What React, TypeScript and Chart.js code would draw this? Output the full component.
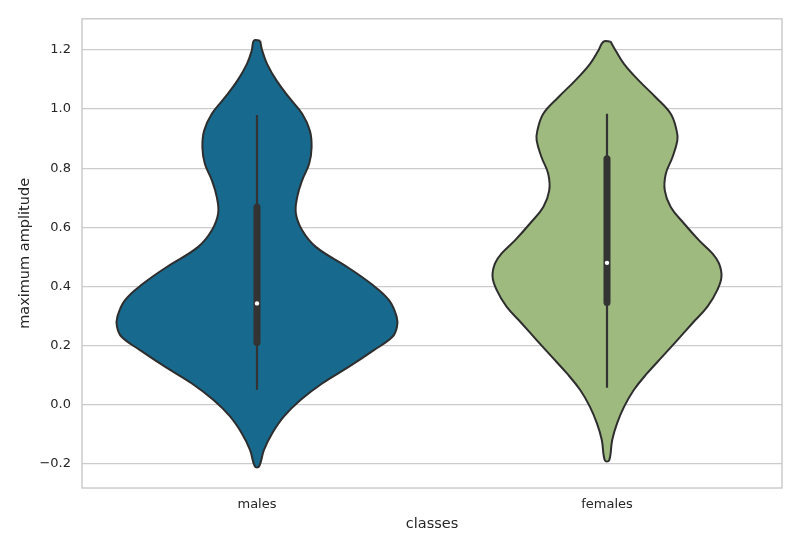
import React, { useEffect, useRef } from "react";
import { Chart, registerables } from "chart.js";

Chart.register(...registerables);

// Categories
const categories = ["males", "females"];

// Y tick labels
const yTicks = [-0.2, 0.0, 0.2, 0.4, 0.6, 0.8, 1.0, 1.2];

// Violin density profiles (value, half-width in category units), top to bottom
const malesY = [1.231, 1.197, 1.152, 1.096, 1.040, 0.984, 0.927, 0.871, 0.815, 0.759, 0.703, 0.647, 0.590, 0.534, 0.466, 0.410, 0.354, 0.298, 0.264, 0.230, 0.185, 0.129, 0.073, 0.017, -0.039, -0.095, -0.152, -0.208];
const malesW = [0.009, 0.015, 0.029, 0.056, 0.091, 0.129, 0.151, 0.156, 0.149, 0.129, 0.115, 0.111, 0.129, 0.168, 0.258, 0.325, 0.377, 0.399, 0.400, 0.387, 0.334, 0.263, 0.187, 0.125, 0.077, 0.044, 0.020, 0.006];

const femalesY = [1.228, 1.197, 1.152, 1.096, 1.040, 0.984, 0.927, 0.894, 0.837, 0.781, 0.725, 0.669, 0.613, 0.556, 0.512, 0.478, 0.433, 0.388, 0.332, 0.276, 0.219, 0.163, 0.107, 0.051, -0.006, -0.062, -0.118, -0.188];
const femalesW = [0.010, 0.025, 0.049, 0.091, 0.139, 0.182, 0.199, 0.201, 0.187, 0.168, 0.165, 0.182, 0.220, 0.263, 0.301, 0.320, 0.327, 0.315, 0.287, 0.244, 0.201, 0.158, 0.115, 0.077, 0.049, 0.029, 0.015, 0.006];

// Box summaries: [whiskerLow, q1, median, q3, whiskerHigh]
const malesBox = [0.051, 0.211, 0.343, 0.669, 0.980];
const femalesBox = [0.058, 0.346, 0.480, 0.832, 0.984];

const fillColors = ["#176a8e", "#9fba7f"];
const edgeColor = "#2e2e2e";

function violinPoints(center: number, ys: number[], ws: number[]) {
  const right = ys.map((y, i) => ({ x: center + ws[i], y }));
  const left = ys.map((y, i) => ({ x: center - ws[i], y })).reverse();
  return [...right, ...left, right[0]];
}

export default function App() {
  const canvasRef = useRef<HTMLCanvasElement | null>(null);

  useEffect(() => {
    document.body.style.margin = "0";
    const canvas = canvasRef.current;
    if (!canvas) return;

    const violins = [
      { ys: malesY, ws: malesW, box: malesBox },
      { ys: femalesY, ws: femalesW, box: femalesBox },
    ];

    const datasets: any[] = [];
    violins.forEach((v, i) => {
      datasets.push({
        type: "line",
        data: violinPoints(i, v.ys, v.ws),
        backgroundColor: fillColors[i],
        borderColor: edgeColor,
        borderWidth: 2,
        fill: "shape",
        tension: 0.4,
        pointRadius: 0,
        order: 4,
      });
      datasets.push({
        type: "line",
        data: [
          { x: i, y: v.box[0] },
          { x: i, y: v.box[4] },
        ],
        borderColor: "#333333",
        borderWidth: 2.2,
        pointRadius: 0,
        fill: false,
        order: 3,
      });
      datasets.push({
        type: "line",
        data: [
          { x: i, y: v.box[1] },
          { x: i, y: v.box[3] },
        ],
        borderColor: "#333333",
        borderWidth: 7,
        borderCapStyle: "round",
        pointRadius: 0,
        fill: false,
        order: 2,
      });
      datasets.push({
        type: "scatter",
        data: [{ x: i, y: v.box[2] }],
        backgroundColor: "#ffffff",
        borderColor: "#ffffff",
        borderWidth: 0,
        pointRadius: 2.2,
        order: 1,
      });
    });

    const framePlugin = {
      id: "frame",
      afterDraw(chart: any) {
        const { ctx, chartArea } = chart;
        ctx.save();
        ctx.strokeStyle = "#cccccc";
        ctx.lineWidth = 1.5;
        ctx.strokeRect(chartArea.left, chartArea.top, chartArea.right - chartArea.left, chartArea.bottom - chartArea.top);
        ctx.restore();
      },
    };

    const chart = new Chart(canvas, {
      type: "scatter",
      data: { datasets },
      plugins: [framePlugin],
      options: {
        animation: false,
        responsive: false,
        maintainAspectRatio: false,
        layout: { padding: { left: 0, right: 18, top: 18, bottom: 0 } },
        plugins: {
          legend: { display: false },
          tooltip: { enabled: false },
        },
        scales: {
          x: {
            type: "linear",
            min: -0.5,
            max: 1.5,
            afterBuildTicks: (scale: any) => {
              scale.ticks = categories.map((_, i) => ({ value: i }));
            },
            afterFit: (scale: any) => {
              scale.height = 62;
            },
            ticks: {
              callback: (v: any) => categories[Math.round(Number(v))] ?? "",
              color: "#262626",
              font: { family: "DejaVu Sans", size: 13 },
              padding: 9,
              maxRotation: 0,
            },
            grid: { display: false, drawTicks: false },
            border: { display: false },
            title: {
              display: true,
              text: "classes",
              color: "#262626",
              font: { family: "DejaVu Sans", size: 14.5 },
              padding: { top: 3, bottom: 17 },
            },
          },
          y: {
            type: "linear",
            min: -0.281,
            max: 1.305,
            afterBuildTicks: (scale: any) => {
              scale.ticks = yTicks.map((v) => ({ value: v }));
            },
            afterFit: (scale: any) => {
              scale.width = 82;
            },
            ticks: {
              callback: (v: any) => {
                const s = Number(v).toFixed(1);
                return s.startsWith("-") ? "\u2212" + s.slice(1) : s;
              },
              color: "#262626",
              font: { family: "DejaVu Sans", size: 13 },
              padding: 11,
            },
            grid: { color: "#cccccc", lineWidth: 1.2, drawTicks: false },
            border: { display: false },
            title: {
              display: true,
              text: "maximum amplitude",
              color: "#262626",
              font: { family: "DejaVu Sans", size: 14.5 },
              padding: { top: 17, bottom: 6 },
            },
          },
        },
      } as any,
    });

    return () => chart.destroy();
  }, []);

  return (
    <div style={{ position: "fixed", left: 0, top: 0, width: 800, height: 550, background: "#ffffff" }}>
      <canvas ref={canvasRef} width={800} height={550} style={{ width: 800, height: 550 }} />
    </div>
  );
}
